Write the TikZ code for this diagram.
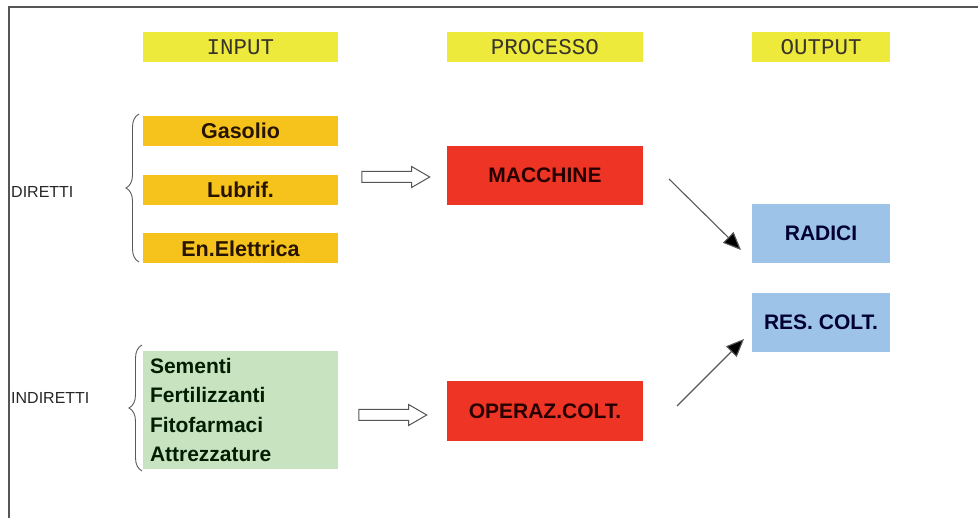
\documentclass[tikz,border=0pt]{standalone}
\usepackage{fontspec}
\setmainfont{Liberation Sans}
\newfontfamily\monof{Liberation Mono}
\usetikzlibrary{arrows.meta,shapes.arrows,decorations.pathreplacing}
\definecolor{hdryel}{HTML}{EEEA3C}
\definecolor{gold}{HTML}{F5C31C}
\definecolor{redbox}{HTML}{EE3424}
\definecolor{bluebox}{HTML}{9DC3E8}
\definecolor{greenbox}{HTML}{C8E3C0}
\definecolor{frame}{HTML}{555555}
\begin{document}
\begin{tikzpicture}[x=1pt,y=-1pt,
  hdr/.style={fill=hdryel, inner sep=0, minimum height=30, text=black!80!olive,
    font=\monof\fontsize{22.5}{26}\selectfont},
  ibox/.style={fill=gold, inner sep=0, minimum width=195, minimum height=30,
    text=black!85!orange, font=\bfseries\fontsize{21.5}{25}\selectfont},
  pbox/.style={fill=redbox, inner sep=0, minimum width=196, minimum height=59,
    text=black!85!red, font=\bfseries\fontsize{21}{25}\selectfont},
  obox/.style={fill=bluebox, inner sep=0, minimum width=138, minimum height=59,
    text=black!80!blue, font=\bfseries\fontsize{21}{25}\selectfont},
  side/.style={anchor=west, inner sep=0, text=black!85, font=\fontsize{16}{19}\selectfont},
  hollow/.style={single arrow, draw=frame, fill=white, line width=1pt,
    minimum height=68, single arrow head extend=5pt,
    single arrow tip angle=60, inner xsep=0, inner ysep=5pt},
  conn/.style={draw=black!65, line width=1.1pt,
    -{Triangle[length=18pt,width=15pt,fill=black]}},
  bracedeco/.style={draw=black!65, line width=0.9pt,
    decorate, decoration={brace, amplitude=13pt}}
]
\useasboundingbox (0,0) rectangle (978,518);
\draw[frame, line width=2pt] (8.5,518) -- (8.5,7) -- (978,7);

% headers
\node[hdr, minimum width=195] (hin) at (240.5,47) {INPUT};
\node[hdr, minimum width=196] (hpr) at (545,47) {PROCESSO};
\node[hdr, minimum width=138] (hout) at (821,47) {OUTPUT};

% inputs
\node[ibox] (gas) at (240.5,131) {Gasolio};
\node[ibox] (lub) at (240.5,190) {Lubrif.};
\node[ibox] (ele) at (240.5,248.5) {En.Elettrica};
\node[fill=greenbox, inner xsep=7, inner ysep=0, text width=181, minimum height=118,
  align=left, text=black!80!green!60!black,
  font=\bfseries\fontsize{21}{29.6}\selectfont] (ind) at (240.5,410)
  {Sementi\\Fertilizzanti\\Fitofarmaci\\Attrezzature};

% side labels
\node[side] (dir) at (11,192) {DIRETTI};
\node[side] (indir) at (11,398) {INDIRETTI};

% braces
\coordinate (b1a) at (139,262);
\coordinate (b1b) at (139,114);
\coordinate (b2a) at (142,471);
\coordinate (b2b) at (142,345);
\draw[bracedeco] (b1a) -- (b1b);
\draw[bracedeco] (b2a) -- (b2b);

% process
\node[pbox] (mac) at (545,175.5) {MACCHINE};
\node[pbox, minimum height=60] (opr) at (545,411) {OPERAZ.COLT.};

% outputs
\node[obox] (rad) at (821,233.5) {RADICI};
\node[obox] (res) at (821,322.5) {RES. COLT.};

% hollow arrows
\node[hollow] (ha1) at (391,177) {};
\node[hollow] (ha2) at (388,415) {};

% connectors
\coordinate (a1s) at (669,179);
\coordinate (a1e) at (741,250);
\coordinate (a2s) at (677,406);
\coordinate (a2e) at (744,339);
\draw[conn] (a1s) -- (a1e);
\draw[conn] (a2s) -- (a2e);
\end{tikzpicture}
\end{document}
